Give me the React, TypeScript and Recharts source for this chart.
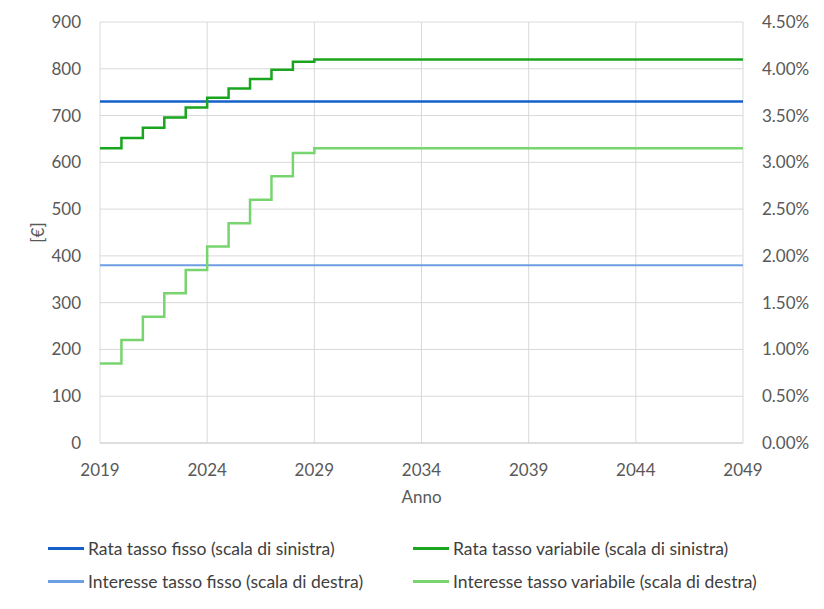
import { CartesianGrid, Legend, Line, LineChart, XAxis, YAxis } from "recharts";

const years = [2019, 2020, 2021, 2022, 2023, 2024, 2025, 2026, 2027, 2028, 2029, 2049];
const rataFisso = [730, 730, 730, 730, 730, 730, 730, 730, 730, 730, 730, 730];
const rataVariabile = [630, 652, 674, 696, 717, 738, 758, 778, 798, 815, 820, 820];
const interesseFisso = [1.9, 1.9, 1.9, 1.9, 1.9, 1.9, 1.9, 1.9, 1.9, 1.9, 1.9, 1.9];
const interesseVariabile = [0.85, 1.1, 1.35, 1.6, 1.85, 2.1, 2.35, 2.6, 2.85, 3.1, 3.15, 3.15];

const xTicks = [2019, 2024, 2029, 2034, 2039, 2044, 2049];
const leftTicks = [0, 100, 200, 300, 400, 500, 600, 700, 800, 900];
const rightTicks = [0, 0.5, 1, 1.5, 2, 2.5, 3, 3.5, 4, 4.5];

const seriesNames = [
  "Rata tasso fisso (scala di sinistra)",
  "Rata tasso variabile (scala di sinistra)",
  "Interesse tasso fisso (scala di destra)",
  "Interesse tasso variabile (scala di destra)"
];

const data = years.map((year, i) => ({
  year,
  rataFisso: rataFisso[i],
  rataVariabile: rataVariabile[i],
  interesseFisso: interesseFisso[i],
  interesseVariabile: interesseVariabile[i]
}));

const FONT = "Lato, 'Open Sans', sans-serif";
const tickStyle = { fill: "#595959", fontSize: 17, fontFamily: FONT };

function renderLegend(props: any) {
  const items = [...(props.payload || [])].sort(
    (a: any, b: any) => seriesNames.indexOf(a.value) - seriesNames.indexOf(b.value)
  );
  return (
    <div
      style={{
        display: "grid",
        gridTemplateColumns: "365px 400px",
        rowGap: 11,
        paddingLeft: 48,
        fontFamily: FONT,
        fontSize: 17.5,
        color: "#404040"
      }}
    >
      {items.map((item: any) => (
        <div key={item.value} style={{ display: "flex", alignItems: "center", height: 22 }}>
          <span
            style={{
              display: "inline-block",
              width: 36,
              height: 3,
              background: item.color,
              marginRight: 4
            }}
          />
          <span>{item.value}</span>
        </div>
      ))}
    </div>
  );
}

export default function App() {
  return (
    <div style={{ position: "absolute", left: 0, top: 0, background: "#fff" }}>
      <LineChart
        data={data}
        height={609}
        margin={{ top: 22, right: 0, left: 0, bottom: 102 }}
        width={824}
      >
        <CartesianGrid stroke="#d9d9d9" yAxisId="left" />
        <XAxis
          axisLine={{ stroke: "#d0d0d0" }}
          dataKey="year"
          domain={[2019, 2049]}
          height={64}
          label={{ value: "Anno", position: "insideBottom", offset: 4, fill: "#595959", fontSize: 17, fontFamily: FONT }}
          tick={tickStyle}
          tickLine={false}
          tickMargin={21}
          tickSize={0}
          ticks={xTicks}
          type="number"
        />
        <YAxis
          axisLine={false}
          domain={[0, 900]}
          label={{
            value: "[€]",
            angle: -90,
            position: "insideLeft",
            offset: 38,
            fill: "#595959",
            fontSize: 17,
            fontFamily: FONT,
            style: { textAnchor: "middle" }
          }}
          tick={tickStyle}
          tickLine={false}
          tickMargin={19}
          tickSize={0}
          ticks={leftTicks}
          width={100}
          yAxisId="left"
        />
        <YAxis
          axisLine={false}
          domain={[0, 4.5]}
          orientation="right"
          tick={tickStyle}
          tickFormatter={(v: number) => `${v.toFixed(2)}%`}
          tickLine={false}
          tickMargin={19}
          tickSize={0}
          ticks={rightTicks}
          width={81}
          yAxisId="right"
        />
        <Legend
          align="center"
          content={renderLegend}
          layout="horizontal"
          verticalAlign="middle"
          wrapperStyle={{ top: 537, left: 0, width: 824 }}
        />
        <Line
          dataKey="rataFisso"
          dot={false}
          isAnimationActive={false}
          name={seriesNames[0]}
          stroke="#1560c8"
          strokeWidth={2.5}
          type="stepAfter"
          yAxisId="left"
        />
        <Line
          dataKey="rataVariabile"
          dot={false}
          isAnimationActive={false}
          name={seriesNames[1]}
          stroke="#1aa51e"
          strokeWidth={2.5}
          type="stepAfter"
          yAxisId="left"
        />
        <Line
          dataKey="interesseFisso"
          dot={false}
          isAnimationActive={false}
          name={seriesNames[2]}
          stroke="#6d9ee3"
          strokeWidth={2}
          type="stepAfter"
          yAxisId="right"
        />
        <Line
          dataKey="interesseVariabile"
          dot={false}
          isAnimationActive={false}
          name={seriesNames[3]}
          stroke="#78d46f"
          strokeWidth={2.5}
          type="stepAfter"
          yAxisId="right"
        />
      </LineChart>
    </div>
  );
}
